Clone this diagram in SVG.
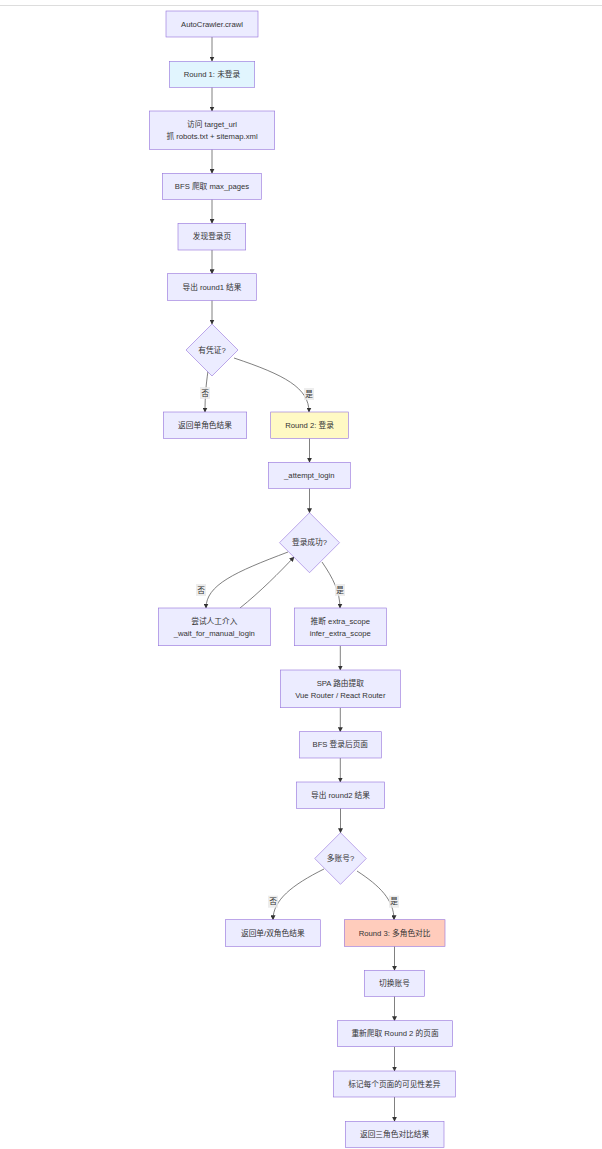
<svg xmlns="http://www.w3.org/2000/svg" width="602" height="1149" viewBox="0 0 602 1149">
<style>
.n{fill:#ECECFF;stroke:#9370DB;stroke-width:0.6}
.r1{fill:#e1f5fe}
.r2{fill:#fff9c4}
.r3{fill:#ffccbc}
.t{font-family:"Liberation Sans","Noto Sans CJK SC",sans-serif;font-size:7.7px;fill:#333;text-anchor:middle;dominant-baseline:central}
.e{fill:none;stroke:#555;stroke-width:0.75}
.lb{fill:#e8e8e8;opacity:0.8}
</style>
<defs>
<marker id="ah" viewBox="0 0 10 10" refX="9" refY="5" markerWidth="5" markerHeight="5" markerUnits="userSpaceOnUse" orient="auto">
<path d="M0,0 L10,5 L0,10 z" fill="#333"/>
</marker>
</defs>
<rect width="602" height="1149" fill="#fff"/>
<line x1="0" y1="5.5" x2="602" y2="5.5" stroke="#ddd" stroke-width="1"/>
<g id="edges">
<path class="e" marker-end="url(#ah)" d="M212,37 L212,61"/>
<path class="e" marker-end="url(#ah)" d="M212,87.3 L212,111"/>
<path class="e" marker-end="url(#ah)" d="M212,149.3 L212,173.3"/>
<path class="e" marker-end="url(#ah)" d="M212,199.3 L212,223.3"/>
<path class="e" marker-end="url(#ah)" d="M212,250 L212,273.7"/>
<path class="e" marker-end="url(#ah)" d="M212,300.3 L212,324"/>
<path class="e" marker-end="url(#ah)" d="M208,371 C206,385 205,396 205,412"/>
<path class="e" marker-end="url(#ah)" d="M234,358 C285,375 309,388 309,412"/>
<path class="e" marker-end="url(#ah)" d="M309.5,438.3 L309.5,462.3"/>
<path class="e" marker-end="url(#ah)" d="M309.5,488.3 L309.5,512.7"/>
<path class="e" marker-end="url(#ah)" d="M288,552 C235,572 206,585 206,608"/>
<path class="e" marker-end="url(#ah)" d="M240,608 C260,592 280,572 294,557"/>
<path class="e" marker-end="url(#ah)" d="M322,562 C333,578 340,592 340,608"/>
<path class="e" marker-end="url(#ah)" d="M340.3,645.7 L340.3,670"/>
<path class="e" marker-end="url(#ah)" d="M340.3,707.7 L340.3,731.7"/>
<path class="e" marker-end="url(#ah)" d="M340.3,758 L340.3,782"/>
<path class="e" marker-end="url(#ah)" d="M340.5,808.3 L340.5,832.7"/>
<path class="e" marker-end="url(#ah)" d="M324,869 C292,885 273,900 273,919.7"/>
<path class="e" marker-end="url(#ah)" d="M357,871 C380,886 394,900 394,919.7"/>
<path class="e" marker-end="url(#ah)" d="M394.5,946.3 L394.5,970.3"/>
<path class="e" marker-end="url(#ah)" d="M394.5,996.3 L394.5,1020.7"/>
<path class="e" marker-end="url(#ah)" d="M394.5,1046.7 L394.5,1071"/>
<path class="e" marker-end="url(#ah)" d="M394.5,1097 L394.5,1121.3"/>
<rect class="lb" x="200" y="387" width="10" height="12"/><text class="t" x="205" y="393">否</text>
<rect class="lb" x="304" y="388" width="10" height="12"/><text class="t" x="309" y="394">是</text>
<rect class="lb" x="196" y="584" width="10" height="12"/><text class="t" x="201" y="590">否</text>
<rect class="lb" x="335" y="584" width="10" height="12"/><text class="t" x="340" y="590">是</text>
<rect class="lb" x="268" y="895.7" width="10" height="12"/><text class="t" x="273" y="901.7">否</text>
<rect class="lb" x="389" y="895.7" width="10" height="12"/><text class="t" x="394" y="901.7">是</text>
</g>
<g id="n1"><rect class="n" x="166" y="11" width="92" height="26"/><text class="t" x="212" y="24">AutoCrawler.crawl</text></g>
<g id="n2"><rect class="n r1" x="169.3" y="61.3" width="85.4" height="26"/><text class="t" x="212" y="74.3">Round 1: 未登录</text></g>
<g id="n3"><rect class="n" x="149.3" y="111" width="125.4" height="38.3"/><text class="t" x="212" y="124.5">访问 target_url</text><text class="t" x="212" y="136">抓 robots.txt + sitemap.xml</text></g>
<g id="n4"><rect class="n" x="162.3" y="173.3" width="99" height="26"/><text class="t" x="212" y="186.3">BFS 爬取 max_pages</text></g>
<g id="n5"><rect class="n" x="178" y="223.3" width="67.7" height="26.7"/><text class="t" x="212" y="236.7">发现登录页</text></g>
<g id="n6"><rect class="n" x="167.3" y="273.7" width="89" height="26.6"/><text class="t" x="212" y="287">导出 round1 结果</text></g>
<g id="d1"><polygon class="n" points="212,324 238,350 212,376 186,350"/><text class="t" x="212" y="350">有凭证?</text></g>
<g id="n7"><rect class="n" x="163.3" y="412" width="83.4" height="26.3"/><text class="t" x="205" y="425.2">返回单角色结果</text></g>
<g id="n8"><rect class="n r2" x="270.7" y="412" width="77.6" height="26.3"/><text class="t" x="309.5" y="425.2">Round 2: 登录</text></g>
<g id="n9"><rect class="n" x="268.3" y="462.3" width="82" height="26"/><text class="t" x="309.3" y="475.3">_attempt_login</text></g>
<g id="d2"><polygon class="n" points="309.5,512.7 339.5,542.7 309.5,572.7 279.5,542.7"/><text class="t" x="309.5" y="542.7">登录成功?</text></g>
<g id="n10"><rect class="n" x="158.3" y="608" width="112" height="37.7"/><text class="t" x="214.3" y="621">尝试人工介入</text><text class="t" x="214.3" y="633">_wait_for_manual_login</text></g>
<g id="n11"><rect class="n" x="294.3" y="608" width="92" height="37.7"/><text class="t" x="340.3" y="621">推断 extra_scope</text><text class="t" x="340.3" y="633">infer_extra_scope</text></g>
<g id="n12"><rect class="n" x="280.3" y="670" width="120" height="37.7"/><text class="t" x="340.3" y="683">SPA 路由提取</text><text class="t" x="340.3" y="695">Vue Router / React Router</text></g>
<g id="n13"><rect class="n" x="299.3" y="731.7" width="82" height="26.3"/><text class="t" x="340.3" y="744.8">BFS 登录后页面</text></g>
<g id="n14"><rect class="n" x="296.3" y="782" width="88.4" height="26.3"/><text class="t" x="340.5" y="795.2">导出 round2 结果</text></g>
<g id="d3"><polygon class="n" points="340.5,832.7 366.3,858.5 340.5,884.3 314.7,858.5"/><text class="t" x="340.5" y="858.5">多账号?</text></g>
<g id="n15"><rect class="n" x="225.3" y="919.7" width="95" height="26.6"/><text class="t" x="272.8" y="933">返回单/双角色结果</text></g>
<g id="n16"><rect class="n r3" x="344.3" y="919.7" width="100.7" height="26.6"/><text class="t" x="394.6" y="933">Round 3: 多角色对比</text></g>
<g id="n17"><rect class="n" x="364.3" y="970.3" width="60.4" height="26"/><text class="t" x="394.5" y="983.3">切换账号</text></g>
<g id="n18"><rect class="n" x="337.3" y="1020.7" width="115.4" height="26"/><text class="t" x="395" y="1033.7">重新爬取 Round 2 的页面</text></g>
<g id="n19"><rect class="n" x="333.3" y="1071" width="122" height="26"/><text class="t" x="394.3" y="1084">标记每个页面的可见性差异</text></g>
<g id="n20"><rect class="n" x="345.3" y="1121.3" width="98.7" height="26"/><text class="t" x="394.6" y="1134.3">返回三角色对比结果</text></g>
</svg>
